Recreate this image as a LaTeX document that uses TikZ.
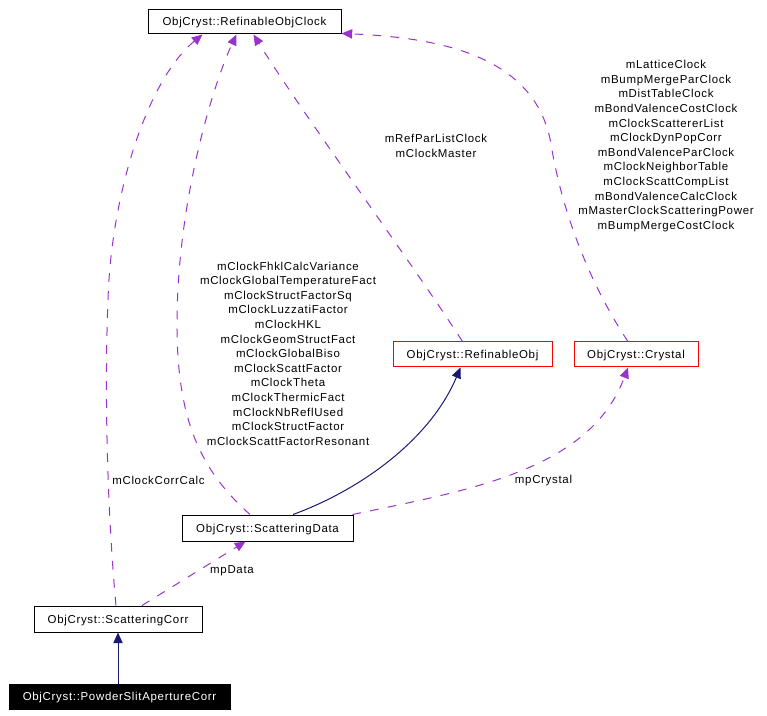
\documentclass[tikz,border=0pt]{standalone}
\usepackage{fontspec}
\setmainfont{Liberation Sans}[LetterSpace=6]
\usetikzlibrary{arrows.meta,calc}
\definecolor{edgepurple}{HTML}{9A32CD}
\definecolor{edgenavy}{HTML}{191970}
\tikzset{
  cls/.style={draw=black, line width=0.75pt, inner sep=0pt, fill=white,
    text height=0.75em, text depth=0.15em,
    font=\fontsize{8.6pt}{10.95pt}\selectfont},
  redcls/.style={cls, draw=red},
  focuscls/.style={cls, fill=black, text=white},
  lbl/.style={inner sep=0pt, align=center, font=\fontsize{8.6pt}{10.95pt}\selectfont},
  dep/.style={draw=edgepurple, line width=0.75pt, dash pattern=on 6.5pt off 7pt,
    -{Triangle[length=8pt,width=7pt]}},
  inh/.style={draw=edgenavy, line width=0.75pt, -{Triangle[length=8pt,width=7pt]}},
}
\begin{document}
\begin{tikzpicture}[x=0.75pt,y=-0.75pt]
\useasboundingbox (0,0) rectangle (767,716);
\node[cls, minimum width=193*0.75pt, minimum height=24*0.75pt] (clock) at (244.5,22) {ObjCryst::RefinableObjClock};
\node[redcls, minimum width=159*0.75pt, minimum height=25*0.75pt] (ro) at (472.5,354.5) {ObjCryst::RefinableObj};
\node[redcls, minimum width=124*0.75pt, minimum height=25*0.75pt] (cr) at (636,354.5) {ObjCryst::Crystal};
\node[cls, minimum width=171*0.75pt, minimum height=26*0.75pt] (sd) at (267.5,528) {ObjCryst::ScatteringData};
\node[cls, minimum width=168*0.75pt, minimum height=26*0.75pt] (sc) at (118,619) {ObjCryst::ScatteringCorr};
\node[focuscls, minimum width=221*0.75pt, minimum height=25*0.75pt] (ps) at (119.5,696.5) {ObjCryst::PowderSlitApertureCorr};

% labels
\node[lbl] (l1) at (158.5,480) {mClockCorrCalc};
\node[lbl] (l2) at (288,353.7) {mClockFhklCalcVariance\\mClockGlobalTemperatureFact\\mClockStructFactorSq\\mClockLuzzatiFactor\\mClockHKL\\mClockGeomStructFact\\mClockGlobalBiso\\mClockScattFactor\\mClockTheta\\mClockThermicFact\\mClockNbReflUsed\\mClockStructFactor\\mClockScattFactorResonant};
\node[lbl] (l3) at (436,146) {mRefParListClock\\mClockMaster};
\node[lbl] (l4) at (666,146) {mLatticeClock\\mBumpMergeParClock\\mDistTableClock\\mBondValenceCostClock\\mClockScattererList\\mClockDynPopCorr\\mBondValenceParClock\\mClockNeighborTable\\mClockScattCompList\\mBondValenceCalcClock\\mMasterClockScatteringPower\\mBumpMergeCostClock};
\node[lbl] (l5) at (543.5,481) {mpCrystal};
\node[lbl] (l6) at (232,571) {mpData};

% edges
\draw[dep] ($(sc.north)+(-2,0)$) .. controls (108,520) and (104,400) .. (108,300) .. controls (111,195) and (147,80) .. ($(clock.south)+(-42,0)$);
\draw[dep] ($(sd.north)+(-17.5,0)$) .. controls (200,470) and (178,420) .. (177,330) .. controls (176,200) and (215,80) .. ($(clock.south)+(-8,0)$);
\draw[dep] ($(ro.north)+(-10,0)$) .. controls (410,260) and (300,110) .. ($(clock.south)+(9,0)$);
\draw[dep] ($(cr.north)+(-8,0)$) .. controls (600,300) and (566,230) .. (552,150) .. controls (540,60) and (450,38) .. ($(clock.south east)+(0,-1)$);
\draw[dep] ($(sd.north east)+(-1,0)$) .. controls (470,490) and (590,470) .. ($(cr.south)+(-8,0)$);
\draw[dep] ($(sc.north)+(24,0)$) -- ($(sd.south)+(-22,0)$);
\draw[inh] ($(sd.north)+(25.5,0)$) .. controls (360,490) and (430,440) .. ($(ro.south)+(-12,0)$);
\draw[inh] (sc.south |- ps.north) -- (sc.south);
\end{tikzpicture}
\end{document}
